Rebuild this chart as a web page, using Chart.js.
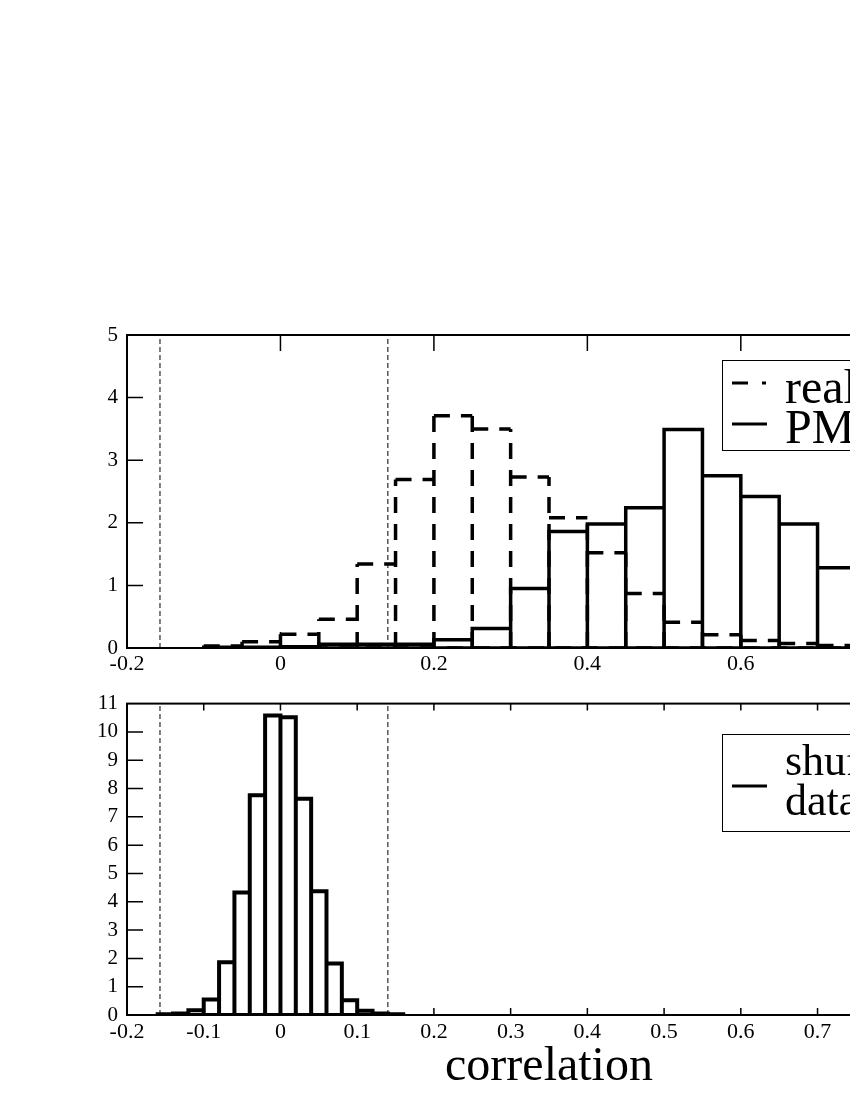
<!DOCTYPE html>
<html>
<head>
<meta charset="utf-8">
<script src="https://cdn.jsdelivr.net/npm/chart.js@4.4.0/dist/chart.umd.min.js"></script>
<style>
  html, body { margin: 0; padding: 0; background: #fff; width: 850px; height: 1100px; overflow: hidden; }
  #wrap { position: relative; width: 1000px; height: 1100px; }
  canvas { position: absolute; left: 0; }
  #topChart { top: 300px; }
  #bottomChart { top: 682px; }
</style>
</head>
<body>
<div id="wrap">
  <canvas id="topChart" width="1000" height="380"></canvas>
  <canvas id="bottomChart" width="1000" height="418"></canvas>
</div>
<script>
// histogram bin edges and heights
var topEdges = [-0.1, -0.05, 0, 0.05, 0.1, 0.15, 0.2, 0.25, 0.3, 0.35, 0.4, 0.45, 0.5, 0.55, 0.6, 0.65, 0.7, 0.75];
var realData = [0.03, 0.1, 0.22, 0.46, 1.34, 2.69, 3.71, 3.5, 2.73, 2.08, 1.52, 0.87, 0.41, 0.21, 0.12, 0.07, 0.04];
var pmData = [0.01, 0.01, 0.02, 0.06, 0.06, 0.06, 0.13, 0.31, 0.95, 1.86, 1.98, 2.24, 3.49, 2.75, 2.42, 1.98, 1.28];

var shuffEdges = [-0.16, -0.14, -0.12, -0.1, -0.08, -0.06, -0.04, -0.02, 0, 0.02, 0.04, 0.06, 0.08, 0.1, 0.12, 0.14, 0.16];
var shuffData = [0.03, 0.05, 0.17, 0.55, 1.86, 4.33, 7.76, 10.58, 10.52, 7.64, 4.37, 1.82, 0.52, 0.15, 0.05, 0.03];

// significance cut-offs (thin dashed verticals)
var cutoffs = [-0.157, 0.14];

var topYMax = 5;
var bottomYMax = 11;

Chart.defaults.font.family = '"Liberation Serif", "Times New Roman", serif';
Chart.defaults.color = '#000';

// turn bins into an outline: tops, edge lines down to zero and a base line
function outline(edges, values) {
    var pts = [];
    for (var i = 0; i < values.length; i++) {
        pts.push({ x: edges[i], y: values[i] }, { x: edges[i + 1], y: values[i] }, { x: edges[i + 1], y: null });
    }
    for (var k = 0; k < edges.length; k++) {
        var h = Math.max(k > 0 ? values[k - 1] : 0, k < values.length ? values[k] : 0);
        pts.push({ x: edges[k], y: 0 }, { x: edges[k], y: h }, { x: edges[k], y: null });
    }
    pts.push({ x: edges[0], y: 0 }, { x: edges[edges.length - 1], y: 0 });
    return pts;
}

function cutoffLines(yMax) {
    var pts = [];
    cutoffs.forEach(function (c) {
        pts.push({ x: c, y: 0 }, { x: c, y: yMax }, { x: c, y: null });
    });
    return pts;
}

function fmt(v) {
    var r = Math.round(v * 10) / 10;
    return r === 0 ? '0' : String(r);
}

// frame round the plot area with inward tick marks
var framePlugin = {
    id: 'frame',
    beforeDatasetsDraw: function (chart, args, opts) {
        var ctx = chart.ctx, a = chart.chartArea;
        var xs = chart.scales.x, ys = chart.scales.y;
        ctx.save();
        ctx.strokeStyle = '#000';
        ctx.lineWidth = 2;
        ctx.strokeRect(a.left, a.top, a.right - a.left, a.bottom - a.top);
        ctx.lineWidth = 1.5;
        ctx.beginPath();
        xs.ticks.forEach(function (t) {
            var px = xs.getPixelForValue(t.value);
            if (px <= a.left + 1 || px >= a.right - 1) return;
            ctx.moveTo(px, a.top); ctx.lineTo(px, a.top + opts.xTick);
            ctx.moveTo(px, a.bottom); ctx.lineTo(px, a.bottom - opts.xTick);
        });
        ys.ticks.forEach(function (t) {
            var py = ys.getPixelForValue(t.value);
            if (py <= a.top + 1 || py >= a.bottom - 1) return;
            ctx.moveTo(a.left, py); ctx.lineTo(a.left + opts.yTick, py);
            ctx.moveTo(a.right, py); ctx.lineTo(a.right - opts.yTick, py);
        });
        ctx.stroke();
        ctx.restore();
    }
};

// boxed legend inside the plot
var boxLegend = {
    id: 'boxLegend',
    afterDraw: function (chart, args, opts) {
        var ctx = chart.ctx, b = opts.box;
        ctx.save();
        ctx.fillStyle = '#fff';
        ctx.fillRect(b.x, b.y, b.w, b.h);
        ctx.strokeStyle = '#000';
        ctx.lineWidth = 1;
        ctx.strokeRect(b.x + 0.5, b.y + 0.5, b.w, b.h);
        ctx.fillStyle = '#000';
        ctx.font = opts.fontSize + 'px "Liberation Serif", "Times New Roman", serif';
        ctx.textBaseline = 'alphabetic';
        opts.items.forEach(function (it) {
            ctx.lineWidth = 3;
            ctx.beginPath();
            if (it.dashed) {
                ctx.moveTo(b.x + 10, it.lineY); ctx.lineTo(b.x + 26, it.lineY);
                ctx.moveTo(b.x + 40, it.lineY); ctx.lineTo(b.x + 44, it.lineY);
            } else {
                ctx.moveTo(b.x + 10, it.lineY); ctx.lineTo(b.x + 45, it.lineY);
            }
            ctx.stroke();
            it.text.forEach(function (t, j) {
                ctx.fillText(t, b.x + opts.textX, it.baseline + j * opts.lineGap);
            });
        });
        ctx.restore();
    }
};

function xAxis(step, height, labelPad, title) {
    return {
        type: 'linear', min: -0.2, max: 0.9,
        grid: { display: false, drawTicks: false },
        border: { display: false },
        ticks: { stepSize: step, padding: labelPad, maxRotation: 0, autoSkip: false, font: { size: 22 }, callback: fmt },
        title: title,
        afterFit: function (s) { s.height = height; }
    };
}

function yAxis(yMax) {
    return {
        min: 0, max: yMax,
        grid: { display: false, drawTicks: false },
        border: { display: false },
        ticks: { stepSize: 1, padding: 9, font: { size: 21 } },
        afterFit: function (s) { s.width = 127; }
    };
}

var lineBase = { pointRadius: 0, fill: false, tension: 0, spanGaps: false, borderColor: '#000' };

var topChart = new Chart(document.getElementById('topChart').getContext('2d'), {
    type: 'line',
    data: {
        datasets: [
            Object.assign({ label: 'PM', data: outline(topEdges, pmData), borderWidth: 3.5, borderCapStyle: 'square', order: 1 }, lineBase),
            Object.assign({ label: 'real data', data: outline(topEdges, realData), borderWidth: 3.5, borderDash: [16, 11], order: 2 }, lineBase),
            Object.assign({ label: 'cutoff', data: cutoffLines(topYMax), borderWidth: 1, borderDash: [5, 3], order: 3 }, lineBase)
        ]
    },
    options: {
        responsive: false,
        animation: false,
        events: [],
        layout: { padding: { top: 35, right: 29, left: 0, bottom: 0 } },
        scales: {
            x: xAxis(0.2, 32, 3, { display: false }),
            y: yAxis(topYMax)
        },
        plugins: {
            legend: { display: false },
            tooltip: { enabled: false },
            frame: { xTick: 16, yTick: 16 },
            boxLegend: {
                box: { x: 722, y: 60, w: 400, h: 90 },
                fontSize: 48, textX: 63, lineGap: 40,
                items: [
                    { dashed: true, lineY: 83, baseline: 403 - 300, text: ['real data'] },
                    { dashed: false, lineY: 124, baseline: 443 - 300, text: ['PM data'] }
                ]
            }
        }
    },
    plugins: [framePlugin, boxLegend]
});

var bottomChart = new Chart(document.getElementById('bottomChart').getContext('2d'), {
    type: 'line',
    data: {
        datasets: [
            Object.assign({ label: 'shuffled data', data: outline(shuffEdges, shuffData), borderWidth: 4, borderCapStyle: 'square', order: 1 }, lineBase),
            Object.assign({ label: 'cutoff', data: cutoffLines(bottomYMax), borderWidth: 1, borderDash: [5, 3], order: 2 }, lineBase)
        ]
    },
    options: {
        responsive: false,
        animation: false,
        events: [],
        layout: { padding: { top: 13, right: 29, left: 0, bottom: 0 } },
        scales: {
            x: xAxis(0.1, 85, 4, { display: true, text: 'correlation', font: { size: 48 }, padding: { top: 0, bottom: 4 } }),
            y: yAxis(bottomYMax)
        },
        plugins: {
            legend: { display: false },
            tooltip: { enabled: false },
            frame: { xTick: 7, yTick: 16 },
            boxLegend: {
                box: { x: 722, y: 734 - 682, w: 400, h: 97 },
                fontSize: 44, textX: 63, lineGap: 40,
                items: [
                    { dashed: false, lineY: 786 - 682, baseline: 775 - 682, text: ['shuffled', 'data'] }
                ]
            }
        }
    },
    plugins: [framePlugin, boxLegend]
});
</script>
</body>
</html>
